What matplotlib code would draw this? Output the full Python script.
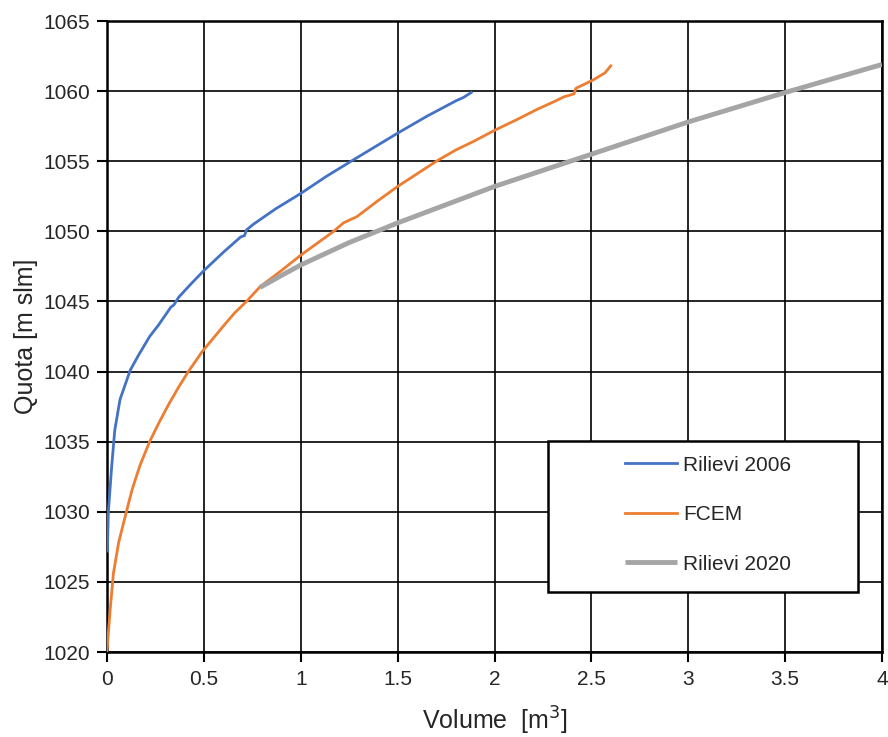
import matplotlib
matplotlib.use("Agg")
import matplotlib.pyplot as plt
from matplotlib.patches import Rectangle

# Rilievi 2006
vol_2006 = [0.002, 0.007, 0.024, 0.04, 0.067, 0.12, 0.16, 0.22, 0.265, 0.33, 0.345, 0.37, 0.43, 0.50,
            0.60, 0.69, 0.71, 0.72, 0.755, 0.87, 1.0, 1.13, 1.26, 1.38, 1.50, 1.65, 1.80, 1.84, 1.88]
quota_2006 = [1027.2, 1030.0, 1033.2, 1035.8, 1038.0, 1040.1, 1041.1, 1042.5, 1043.3, 1044.6, 1044.75,
              1045.3, 1046.2, 1047.2, 1048.5, 1049.6, 1049.7, 1050.1, 1050.5, 1051.6, 1052.7, 1053.9,
              1055.0, 1056.0, 1057.0, 1058.2, 1059.3, 1059.55, 1059.9]

# FCEM
vol_fcem = [0.0, 0.015, 0.033, 0.06, 0.10, 0.13, 0.17, 0.22, 0.27, 0.32, 0.37, 0.42, 0.49, 0.55, 0.61,
            0.66, 0.72, 0.79, 0.9, 1.0, 1.09, 1.17, 1.22, 1.29, 1.40, 1.50, 1.60, 1.70, 1.80, 1.89,
            2.0, 2.03, 2.12, 2.22, 2.30, 2.36, 2.41, 2.42, 2.51, 2.57, 2.60]
quota_fcem = [1020.1, 1022.8, 1025.6, 1027.8, 1030.0, 1031.6, 1033.3, 1035.0, 1036.4, 1037.7, 1038.9,
              1040.0, 1041.4, 1042.4, 1043.4, 1044.2, 1045.0, 1046.05, 1047.2, 1048.3, 1049.2, 1050.0,
              1050.6, 1051.05, 1052.2, 1053.2, 1054.1, 1055.0, 1055.8, 1056.4, 1057.2, 1057.4, 1058.0,
              1058.7, 1059.2, 1059.6, 1059.8, 1060.2, 1060.8, 1061.3, 1061.8]

# Rilievi 2020
vol_2020 = [0.79, 0.9, 1.0, 1.25, 1.5, 1.75, 2.0, 2.25, 2.5, 2.75, 3.0, 3.25, 3.5, 3.75, 4.0]
quota_2020 = [1046.0, 1046.85, 1047.6, 1049.2, 1050.6, 1051.9, 1053.2, 1054.35, 1055.5, 1056.65,
              1057.8, 1058.85, 1059.9, 1060.9, 1061.9]

labels = ["Rilievi 2006", "FCEM", "Rilievi 2020"]
x_ticks = [0, 0.5, 1, 1.5, 2, 2.5, 3, 3.5, 4]
y_ticks = [1020, 1025, 1030, 1035, 1040, 1045, 1050, 1055, 1060, 1065]

plt.rcParams['font.family'] = ['Liberation Sans', 'DejaVu Sans']

fig = plt.figure(figsize=(8.88, 7.37), dpi=100)
ax = fig.add_axes([107/888, 1-652/737, 775/888, 631/737])

ax.plot(vol_2006, quota_2006, color="#4472C4", lw=2.0, label=labels[0], zorder=3)
ax.plot(vol_fcem, quota_fcem, color="#ED7D31", lw=2.0, label=labels[1], zorder=3)
ax.plot(vol_2020, quota_2020, color="#A5A5A5", lw=3.5, label=labels[2], zorder=3, solid_capstyle='butt')

ax.set_xlim(0, 4)
ax.set_ylim(1020, 1065)
ax.set_xticks(x_ticks)
ax.set_xticklabels([f"{t:g}" for t in x_ticks])
ax.set_yticks(y_ticks)
ax.grid(True, color="black", lw=1.2, zorder=1)
ax.set_axisbelow(True)
for s in ax.spines.values():
    s.set_linewidth(1.8)
    s.set_color("black")
ax.tick_params(axis='both', direction='out', length=7, width=1.5, labelsize=15, colors='black')
ax.tick_params(axis='y', pad=5)
ax.tick_params(axis='x', pad=6)
for lab in ax.get_xticklabels() + ax.get_yticklabels():
    lab.set_color("#262626")

ax.set_xlabel("Volume  [m$^3$]", fontsize=18, labelpad=11, color="#262626")
ax.set_ylabel("Quota [m slm]", fontsize=18, labelpad=4, color="#262626")

rect = Rectangle((0.569, 0.095), 0.40, 0.239, transform=ax.transAxes, facecolor="white",
                 edgecolor="black", lw=1.8, zorder=4, clip_on=False)
ax.add_patch(rect)
leg = ax.legend(loc="upper left", bbox_to_anchor=(0.668, 0.311), frameon=False, fontsize=15,
                handlelength=2.5, handletextpad=0.29, labelspacing=1.46, borderpad=0, borderaxespad=0)
leg.set_zorder(5)
for t in leg.get_texts():
    t.set_color("#262626")

fig.savefig("out.png", dpi=100, facecolor="white")
